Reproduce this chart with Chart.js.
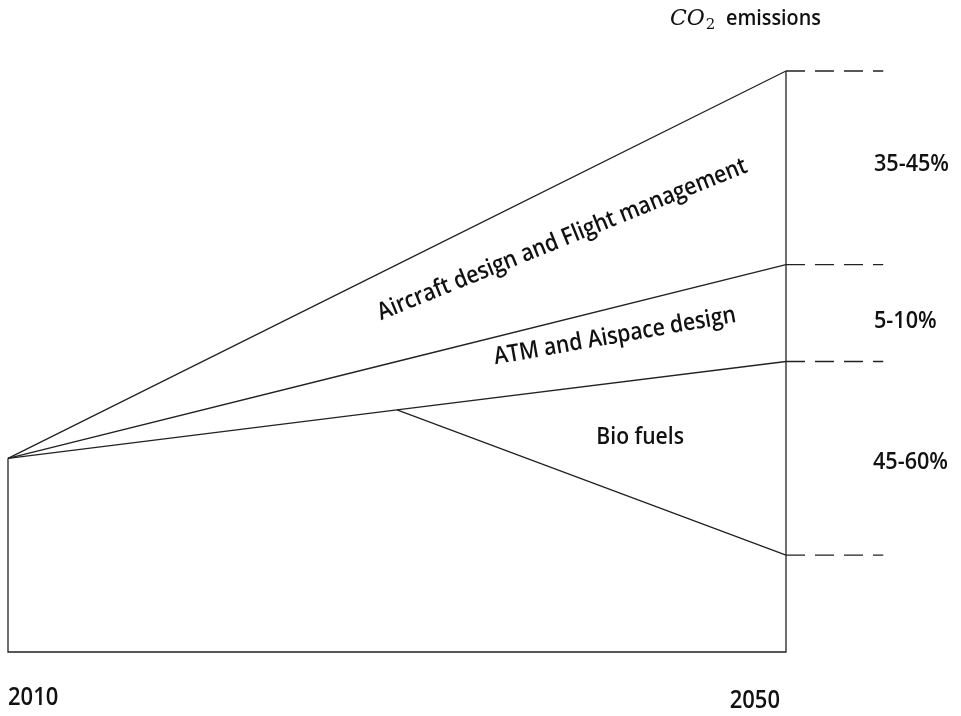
<!DOCTYPE html>
<html>
<head>
<meta charset="utf-8">
<script src="https://cdn.jsdelivr.net/npm/chart.js@4"></script>
<style>
  html, body { margin: 0; padding: 0; background: #fff; }
  #wrap { width: 961px; height: 716px; position: relative; }
</style>
</head>
<body>
<div id="wrap"><canvas id="co2Chart"></canvas></div>
<script>
// CO2 emission paths, indexed so 2010 = 100
const years = [2010, 2030, 2050];
const noMeasures = [100, 200, 300];
const afterAircraft = [100, 150, 200];
const afterAtm = [100, 125, 150];
const afterBioFuels = [null, 125, 50];
const baseline = [0, 0, 0];

// right-hand reduction shares and band names
const shareLabels = ['35-45%', '5-10%', '45-60%'];
const bandNames = ['Aircraft design and Flight management', 'ATM and Aispace design', 'Bio fuels'];
const dashEnd = 2055;

const LINE = '#222';
const FONT = '"Open Sans", sans-serif';

function pts(xs, ys) {
  const out = [];
  xs.forEach((x, i) => { if (ys[i] !== null) out.push({ x: x, y: ys[i] }); });
  return out;
}

function lineSet(data, dash) {
  return {
    data: data,
    borderColor: LINE,
    borderWidth: 1.3,
    borderDash: dash || [],
    pointRadius: 0,
    fill: false,
    tension: 0,
    clip: false
  };
}

const last = years.length - 1;
const datasets = [
  lineSet(pts(years, noMeasures)),
  lineSet(pts(years, afterAircraft)),
  lineSet(pts(years, afterAtm)),
  lineSet(pts(years, afterBioFuels)),
  // frame: 2010 down to baseline, across, up to the 2050 top
  lineSet([
    { x: years[0], y: noMeasures[0] },
    { x: years[0], y: baseline[0] },
    { x: years[last], y: baseline[last] },
    { x: years[last], y: noMeasures[last] }
  ])
];
// dashed guides to the right of 2050
[noMeasures[last], afterAircraft[last], afterAtm[last], afterBioFuels[last]].forEach(v => {
  datasets.push(lineSet([{ x: years[last], y: v }, { x: dashEnd, y: v }], [19, 10]));
});

// draw text a bit narrower than the font, the original face is condensed
function label(ctx, text, x, y, angle, sx) {
  ctx.save();
  ctx.translate(x, y);
  ctx.rotate((angle || 0) * Math.PI / 180);
  ctx.scale(sx || 0.88, 1);
  ctx.fillText(text, 0, 0);
  ctx.restore();
}

const textPlugin = {
  id: 'textPlugin',
  afterDraw(chart) {
    const ctx = chart.ctx;
    const xs = chart.scales.x, ys = chart.scales.y;
    const px = v => xs.getPixelForValue(v);
    const py = v => ys.getPixelForValue(v);
    ctx.save();
    ctx.fillStyle = '#111';
    ctx.textBaseline = 'middle';

    // years under the frame
    ctx.font = '600 25px ' + FONT;
    ctx.textAlign = 'left';
    label(ctx, String(years[0]), px(years[0]), 698);
    ctx.textAlign = 'right';
    label(ctx, String(years[last]), px(years[last]) - 6, 701);

    // shares on the right
    ctx.font = '600 24px ' + FONT;
    ctx.textAlign = 'left';
    label(ctx, shareLabels[0], 874, py(252), 0, 0.9);
    label(ctx, shareLabels[1], 874, py(171), 0, 0.9);
    label(ctx, shareLabels[2], 873, py(98), 0, 0.9);

    // band names
    ctx.font = '600 24px ' + FONT;
    ctx.textAlign = 'center';
    const rot = [
      { x: 2038.5, y: 213, a: -22 },
      { x: 2041.2, y: 163, a: -10 },
      { x: 2042.5, y: 111, a: 0 }
    ];
    rot.forEach((r, i) => {
      label(ctx, bandNames[i], px(r.x), py(r.y), r.a, 0.88);
    });

    // title: CO2 emissions
    ctx.textAlign = 'left';
    ctx.textBaseline = 'alphabetic';
    ctx.font = 'italic 22px "DejaVu Serif", serif';
    ctx.fillText('CO', 670, 25);
    const coW = ctx.measureText('CO').width;
    ctx.font = '15px "DejaVu Serif", serif';
    ctx.fillText('2', 670 + coW + 1, 29);
    ctx.font = '600 22px ' + FONT;
    label(ctx, 'emissions', 726, 25, 0, 0.9);
    ctx.restore();
  }
};

new Chart(document.getElementById('co2Chart'), {
  type: 'line',
  data: { datasets: datasets },
  options: {
    responsive: true,
    maintainAspectRatio: false,
    animation: false,
    events: [],
    layout: { padding: { left: 8, right: 175, top: 71, bottom: 64 } },
    plugins: { legend: { display: false }, tooltip: { enabled: false } },
    scales: {
      x: { type: 'linear', min: 2010, max: 2050, display: false },
      y: { min: 0, max: 300, display: false }
    }
  },
  plugins: [textPlugin]
});
</script>
</body>
</html>
